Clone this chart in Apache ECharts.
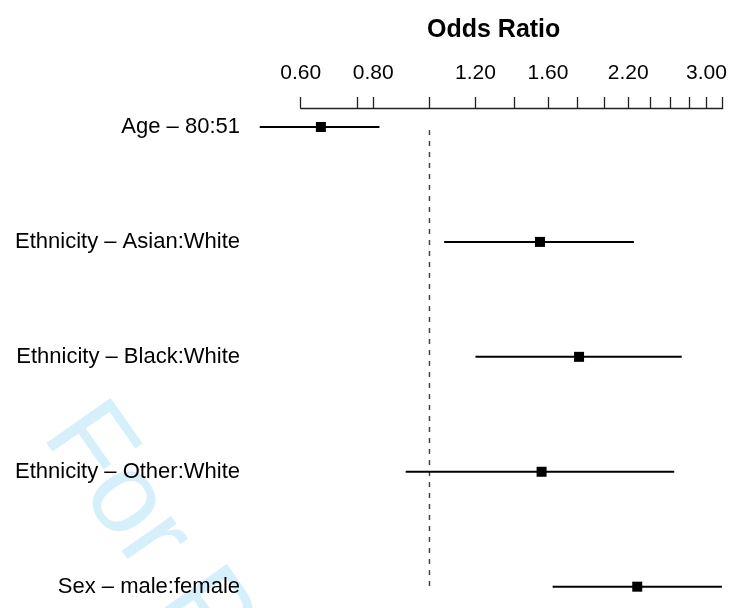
<!DOCTYPE html>
<html>
<head>
<meta charset="utf-8">
<style>
  html, body { margin: 0; padding: 0; background: #fff; }
  #chart { width: 731px; height: 608px; }
</style>
<script src="https://cdn.jsdelivr.net/npm/echarts@6/dist/echarts.min.js"></script>
</head>
<body>
<div id="chart"></div>
<script>
// ---- data ----
const categories = [
  'Age \u2013 80:51',
  'Ethnicity \u2013 Asian:White',
  'Ethnicity \u2013 Black:White',
  'Ethnicity \u2013 Other:White',
  'Sex \u2013 male:female'
];
const rowIndex  = [0, 1, 2, 3, 4];
const oddsRatio = [0.65, 1.55, 1.81, 1.56, 2.28];
const lowerCI   = [0.51, 1.06, 1.20, 0.91, 1.63];
const upperCI   = [0.82, 2.25, 2.72, 2.64, 3.19];
const tickValues  = [0.6, 0.75, 0.8, 1.0, 1.2, 1.4, 1.6, 1.8, 2.0, 2.2, 2.4, 2.6, 2.8, 3.0, 3.2];
const labelValues = [0.6, 0.8, 1.2, 1.6, 2.2, 3.0];
const axisMin = 0.6, axisMax = 3.2;
const refValue = 1.0;
const titleText = 'Odds Ratio';
const watermark = 'For Peer Review';

const FONT = '"Liberation Sans", Arial, Helvetica, sans-serif';
const L = Math.log;

const chart = echarts.init(document.getElementById('chart'), null, { renderer: 'canvas' });

const ciData = rowIndex.map(i => [L(lowerCI[i]), L(upperCI[i]), L(oddsRatio[i]), i]);

const option = {
  animation: false,
  backgroundColor: '#fff',
  title: {
    text: titleText,
    left: 422,
    top: 13,
    textStyle: { fontFamily: FONT, fontSize: 25, fontWeight: 'bold', color: '#000' }
  },
  graphic: [{
    type: 'text',
    x: 20,
    y: 450,
    rotation: -55 * Math.PI / 180,
    z: -10,
    silent: true,
    style: {
      text: watermark,
      fontFamily: FONT,
      fontSize: 114,
      fill: '#d5effb',
      align: 'left',
      verticalAlign: 'bottom'
    }
  }],
  grid: { left: 300.7, right: 8.3, top: 108, bottom: 8, containLabel: false },
  xAxis: {
    type: 'value',
    position: 'top',
    min: L(axisMin),
    max: L(axisMax),
    axisLine: { show: true, onZero: false, lineStyle: { color: '#222', width: 1.3 } },
    axisTick: { show: true, length: 11, lineStyle: { color: '#222', width: 1.3 }, customValues: tickValues.map(L) },
    axisLabel: {
      show: true,
      margin: 24,
      fontFamily: FONT,
      fontSize: 21,
      color: '#000',
      customValues: labelValues.map(L),
      formatter: v => Math.exp(v).toFixed(2)
    },
    splitLine: { show: false }
  },
  yAxis: {
    type: 'value',
    inverse: true,
    min: -0.1653,
    max: 4.1159,
    axisLine: { show: false, onZero: false },
    axisTick: { show: false },
    splitLine: { show: false },
    axisLabel: {
      margin: 60.7,
      fontFamily: FONT,
      fontSize: 22,
      color: '#000',
      customValues: rowIndex,
      formatter: v => categories[Math.round(v)]
    }
  },
  series: [
    {
      type: 'line',
      data: [[L(refValue), rowIndex[0]], [L(refValue), rowIndex[rowIndex.length - 1]]],
      symbol: 'none',
      lineStyle: { color: '#444', width: 1.5, type: [5, 6], dashOffset: -3 },
      z: 1,
      silent: true
    },
    {
      type: 'custom',
      clip: false,
      z: 3,
      data: ciData,
      encode: { x: [0, 1, 2], y: 3 },
      renderItem: function (params, api) {
        const y = api.value(3);
        const p0 = api.coord([api.value(0), y]);
        const p1 = api.coord([api.value(1), y]);
        const pm = api.coord([api.value(2), y]);
        const s = 10;
        return {
          type: 'group',
          children: [
            { type: 'line', shape: { x1: p0[0], y1: p0[1], x2: p1[0], y2: p1[1] }, style: { stroke: '#000', lineWidth: 2 } },
            { type: 'rect', shape: { x: pm[0] - s / 2, y: pm[1] - s / 2, width: s, height: s }, style: { fill: '#000' } }
          ]
        };
      }
    }
  ]
};

chart.setOption(option);
</script>
</body>
</html>
